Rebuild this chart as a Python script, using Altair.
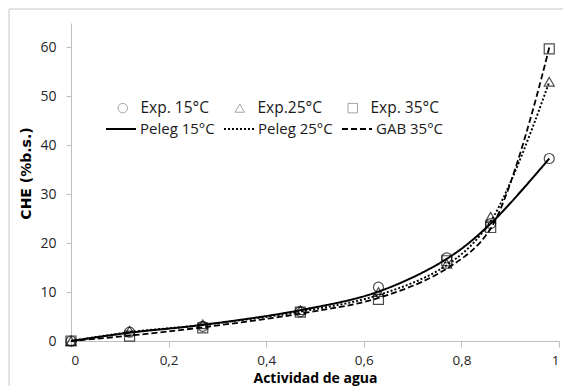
import altair as alt
import pandas as pd

# Water activity values (x)
aw = [0, 0.12, 0.27, 0.47, 0.63, 0.77, 0.86, 0.98]

# Experimental data (CHE, % b.s.)
exp15 = [0, 1.8, 3.0, 6.0, 11.0, 17.0, 24.0, 37.3]
exp25 = [0, 2.1, 3.4, 6.3, 10.0, 15.8, 25.4, 53.0]
exp35 = [0, 1.0, 2.7, 5.9, 8.5, 16.4, 23.2, 59.7]

# Model curves at the same water activities
peleg15 = [0, 1.7, 3.3, 6.3, 10.1, 16.8, 24.0, 37.3]
peleg25 = [0, 1.8, 3.3, 6.0, 9.4, 15.5, 24.5, 53.0]
gab35 = [0, 1.1, 2.8, 5.6, 8.8, 14.8, 23.0, 60.0]

exp_labels = ["Exp. 15°C", "Exp.25°C", "Exp. 35°C"]
model_labels = ["Peleg 15°C", "Peleg 25°C", "GAB 35°C"]

x_ticks = [0, 0.2, 0.4, 0.6, 0.8, 1]
y_ticks = [0, 10, 20, 30, 40, 50, 60]

pts = pd.DataFrame(
    [{"aw": a, "che": v, "serie": exp_labels[0]} for a, v in zip(aw, exp15)]
    + [{"aw": a, "che": v, "serie": exp_labels[1]} for a, v in zip(aw, exp25)]
    + [{"aw": a, "che": v, "serie": exp_labels[2]} for a, v in zip(aw, exp35)]
)
lines = pd.DataFrame(
    [{"aw": a, "che": v, "modelo": model_labels[0]} for a, v in zip(aw, peleg15)]
    + [{"aw": a, "che": v, "modelo": model_labels[1]} for a, v in zip(aw, peleg25)]
    + [{"aw": a, "che": v, "modelo": model_labels[2]} for a, v in zip(aw, gab35)]
)

FONT = "Open Sans"
AX = "#bfbfbf"

x_enc = alt.X(
    "aw:Q",
    scale=alt.Scale(domain=[0, 1], nice=False, zero=False),
    axis=alt.Axis(
        values=x_ticks,
        labelExpr="replace(toString(datum.value), '.', ',')",
        title="Actividad de agua",
        grid=False,
        domainColor=AX,
        tickColor=AX,
        tickSize=6,
        labelPadding=6,
        labelFont=FONT,
        labelFontSize=13.5,
        labelColor="#262626",
        titleFont=FONT,
        titleFontSize=14,
        titleFontWeight="bold",
        titleColor="#000000",
        titlePadding=5,
    ),
)
y_enc = alt.Y(
    "che:Q",
    scale=alt.Scale(domain=[0, 65], nice=False),
    axis=alt.Axis(
        values=y_ticks,
        title="CHE (%b.s.)",
        grid=False,
        domainColor=AX,
        tickColor=AX,
        tickSize=5,
        labelPadding=10,
        labelFont=FONT,
        labelFontSize=14,
        labelColor="#262626",
        titleFont="DejaVu Sans",
        titleFontSize=14,
        titleFontWeight="bold",
        titleColor="#000000",
        titlePadding=6,
        titleY=150,
    ),
)

frame = alt.Chart(alt.Data(values=[{"a": 1}])).mark_rect(
    fill="transparent", stroke="#c8c8c8", strokeWidth=1
).encode(
    x=alt.value(-62), x2=alt.value(800), y=alt.value(-14), y2=alt.value(800)
)

line_layer = alt.Chart(lines).mark_line(color="black", interpolate="catmull-rom").encode(
    x=x_enc,
    y=y_enc,
    strokeDash=alt.StrokeDash(
        "modelo:N",
        scale=alt.Scale(domain=model_labels, range=[[1, 0], [2, 2], [6, 3]]),
        legend=alt.Legend(
            title=None,
            orient="none",
            legendX=34,
            legendY=90,
            direction="horizontal",
            columns=3,
            columnPadding=5,
            labelOffset=3,
            symbolType="stroke",
            symbolSize=900,
            symbolStrokeWidth=2,
            symbolStrokeColor="black",
            labelFont=FONT,
            labelFontSize=15,
            labelColor="#1a1a1a",
            padding=0,
        ),
    ),
    strokeWidth=alt.StrokeWidth(
        "modelo:N",
        scale=alt.Scale(domain=model_labels, range=[2, 1.8, 2]),
        legend=None,
    ),
)

point_layer = alt.Chart(pts).mark_point(
    filled=False, color="black", strokeWidth=1.2, size=100
).encode(
    x=x_enc,
    y=y_enc,
    shape=alt.Shape(
        "serie:N",
        scale=alt.Scale(domain=exp_labels, range=["circle", "triangle-up", "square"]),
        legend=alt.Legend(
            title=None,
            orient="none",
            legendX=44,
            legendY=77,
            direction="horizontal",
            columns=3,
            columnPadding=23,
            labelOffset=10,
            symbolSize=90,
            symbolStrokeWidth=1,
            symbolStrokeColor="#7f7f7f",
            symbolFillColor="transparent",
            labelFont=FONT,
            labelFontSize=15.5,
            labelColor="#1a1a1a",
            padding=0,
        ),
    ),
)

chart = (
    alt.layer(frame, line_layer, point_layer)
    .resolve_legend(shape="independent", strokeDash="independent")
    .properties(
        width=488,
        height=318,
        autosize=alt.AutoSizeParams(type="none"),
        padding={"left": 63, "top": 15, "right": 4, "bottom": 45},
    )
    .configure_view(stroke=None)
)

chart.save("out.html", embed_options={"renderer": "svg", "actions": False})
